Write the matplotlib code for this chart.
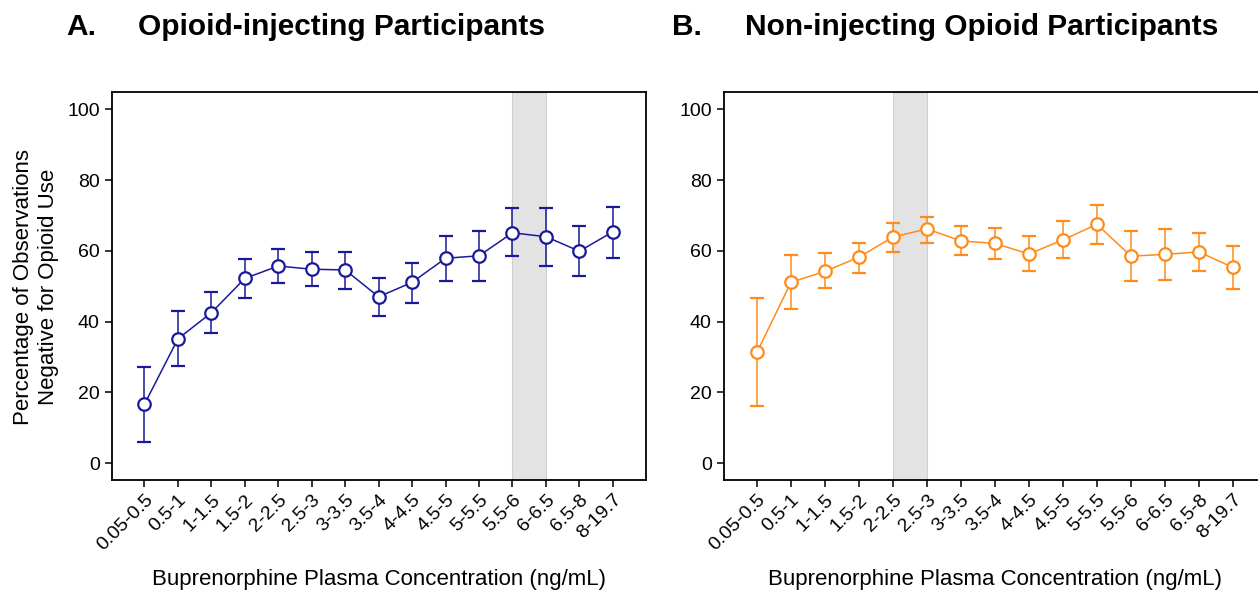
import matplotlib
matplotlib.use("Agg")
import matplotlib.pyplot as plt
import numpy as np

plt.rcParams['font.family'] = ['Liberation Sans', 'DejaVu Sans']

categories = ["0.05-0.5", "0.5-1", "1-1.5", "1.5-2", "2-2.5", "2.5-3", "3-3.5", "3.5-4",
              "4-4.5", "4.5-5", "5-5.5", "5.5-6", "6-6.5", "6.5-8", "8-19.7"]

inj_mean = [16.6, 35.1, 42.5, 52.2, 55.7, 54.8, 54.6, 47.0, 51.1, 57.9, 58.6, 65.1, 64.0, 59.9, 65.4]
inj_upper = [27.1, 43.0, 48.3, 57.6, 60.5, 59.8, 59.7, 52.4, 56.7, 64.2, 65.5, 72.0, 72.2, 66.9, 72.5]
inj_lower = [6.0, 27.3, 36.9, 46.8, 50.9, 50.0, 49.3, 41.6, 45.3, 51.5, 51.6, 58.4, 55.8, 52.8, 58.1]

non_mean = [31.3, 51.1, 54.2, 58.2, 63.9, 66.2, 62.8, 62.1, 59.1, 63.1, 67.5, 58.5, 59.0, 59.7, 55.3]
non_upper = [46.8, 58.8, 59.3, 62.3, 68.0, 69.7, 66.9, 66.4, 64.1, 68.4, 73.1, 65.5, 66.2, 65.0, 61.5]
non_lower = [16.0, 43.6, 49.4, 53.8, 59.6, 62.3, 58.8, 57.6, 54.3, 58.0, 61.9, 51.6, 51.8, 54.3, 49.1]

inj_shade = ("5.5-6", "6-6.5")
non_shade = ("2-2.5", "2.5-3")

yticks = [0, 20, 40, 60, 80, 100]

W, H = 1258, 591
fig = plt.figure(figsize=(W / 100, H / 100), dpi=100)
axA = fig.add_axes([112.3 / W, (H - 480) / H, (646 - 112.3) / W, (480 - 91.7) / H])
axB = fig.add_axes([724.3 / W, (H - 480) / H, (1266.6 - 724.3) / W, (480 - 91.7) / H])

def draw(ax, mean, upper, lower, color, shade):
    x = np.arange(len(categories))
    mean = np.array(mean)
    yerr = np.vstack([mean - np.array(lower), np.array(upper) - mean])
    i0 = categories.index(shade[0]); i1 = categories.index(shade[1])
    ax.axvspan(i0, i1, facecolor='#e3e3e3', edgecolor='#cfcfcf', linewidth=0.8, zorder=0)
    ax.errorbar(x, mean, yerr=yerr, color=color, linewidth=1.1, elinewidth=1.1,
                capsize=4.8, capthick=1.1, marker='o', markersize=9,
                markerfacecolor='white', markeredgecolor=color, markeredgewidth=1.6, zorder=3)
    ax.set_xlim(-0.96, 14.99)
    ax.set_ylim(-4.8, 105)
    ax.set_yticks(yticks)
    ax.set_xticks(x)
    ax.set_xticklabels(categories, rotation=45, ha='right', rotation_mode='anchor', fontsize=14)
    ax.tick_params(axis='both', direction='out', length=5, width=1.1, labelsize=14, color='black')
    ax.tick_params(axis='x', pad=3)
    ax.tick_params(axis='y', pad=4)
    for s in ax.spines.values():
        s.set_linewidth(1.3)
        s.set_color('black')
    ax.set_xlabel("Buprenorphine Plasma Concentration (ng/mL)", fontsize=16)
    ax.xaxis.set_label_coords(0.5, (480 - 579) / 388.3)
    ax.xaxis.label.set_va('center')

draw(axA, inj_mean, inj_upper, inj_lower, '#1a1a99', inj_shade)
draw(axB, non_mean, non_upper, non_lower, '#ff8c1a', non_shade)

fig.text(36 / W, 1 - 287 / H, "Percentage of Observations\nNegative for Opioid Use", fontsize=16,
         rotation=90, ha='center', va='center', multialignment='center')

ty = 1 - 27 / H
fig.text(66 / W, ty, "A.", fontsize=21.5, fontweight='bold', va='center', ha='left')
fig.text(138 / W, ty, "Opioid-injecting Participants", fontsize=21.5, fontweight='bold', va='center', ha='left')
fig.text(672 / W, ty, "B.", fontsize=21.5, fontweight='bold', va='center', ha='left')
fig.text(745 / W, ty, "Non-injecting Opioid Participants", fontsize=21.5, fontweight='bold', va='center', ha='left')

fig.savefig("out.png", dpi=100)
